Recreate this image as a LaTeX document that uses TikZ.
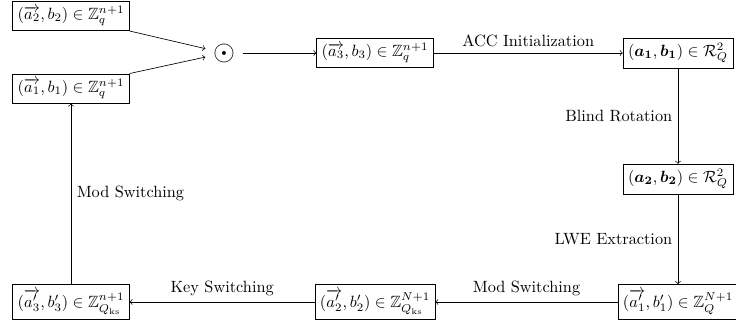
\documentclass[tikz,border=0pt]{standalone}
\usepackage{amsmath,amssymb}
\begin{document}
\begin{tikzpicture}[x=0.6135pt,y=-0.6135pt,
  box/.style={draw, rectangle, inner sep=3pt},
  >=to]
\useasboundingbox (0,0) rectangle (736,329);
\node[box] (A2) at (71,16) {$(\overrightarrow{a_2}, b_2) \in \mathbb{Z}_q^{n+1}$};
\node[box] (A1) at (71,88.5) {$(\overrightarrow{a_1}, b_1) \in \mathbb{Z}_q^{n+1}$};
\node[inner sep=4.5pt] (O) at (224,53) {\LARGE$\odot$};
\node[box] (A3) at (375,53) {$(\overrightarrow{a_3}, b_3) \in \mathbb{Z}_q^{n+1}$};
\node[box] (R1) at (678,53) {$(\boldsymbol{a_1}, \boldsymbol{b_1}) \in \mathcal{R}_Q^2$};
\node[box] (R2) at (678,179) {$(\boldsymbol{a_2}, \boldsymbol{b_2}) \in \mathcal{R}_Q^2$};
\node[box] (L1) at (678,302) {$(\overrightarrow{a'_1}, b'_1) \in \mathbb{Z}_Q^{N+1}$};
\node[box] (L2) at (375,302) {$(\overrightarrow{a'_2}, b'_2) \in \mathbb{Z}_{Q_{\mathrm{ks}}}^{N+1}$};
\node[box] (L3) at (71,302) {$(\overrightarrow{a'_3}, b'_3) \in \mathbb{Z}_{Q_{\mathrm{ks}}}^{n+1}$};
\draw[->] (A2.south east) -- (O);
\draw[->] (A1.north east) -- (O);
\draw[->] (O) -- (A3);
\draw[->] (A3) -- node[above]{ACC Initialization} (R1);
\draw[->] (R1) -- node[left]{Blind Rotation} (R2);
\draw[->] (R2) -- node[left]{LWE Extraction} (L1);
\draw[->] (L1) -- node[above]{Mod Switching} (L2);
\draw[->] (L2) -- node[above]{Key Switching} (L3);
\draw[->] (L3) -- node[right]{Mod Switching} (A1);
\end{tikzpicture}
\end{document}
